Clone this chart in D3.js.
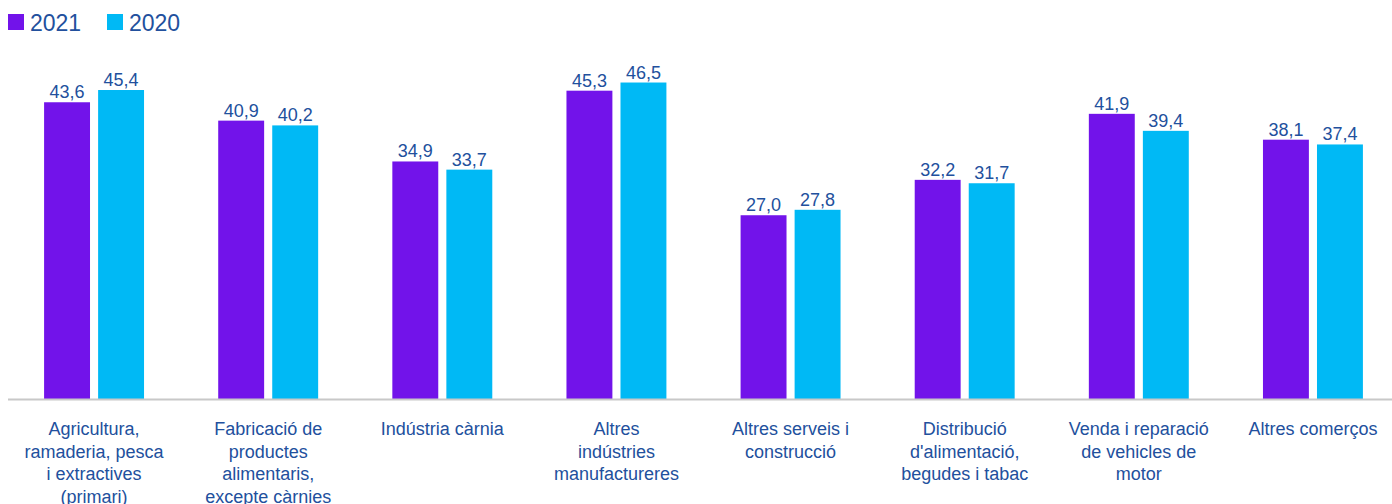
<!doctype html>
<html>
<head>
<meta charset="utf-8">
<style>
  body { margin: 0; background: #fff; }
  text { font-family: "Liberation Sans", Arial, sans-serif; fill: #22509d; }
</style>
</head>
<body>
<script src="https://d3js.org/d3.v7.min.js"></script>
<script>
// data
var categories = [
    ["Agricultura,", "ramaderia, pesca", "i extractives", "(primari)"],
    ["Fabricació de", "productes", "alimentaris,", "excepte càrnies"],
    ["Indústria càrnia"],
    ["Altres", "indústries", "manufactureres"],
    ["Altres serveis i", "construcció"],
    ["Distribució", "d'alimentació,", "begudes i tabac"],
    ["Venda i reparació", "de vehicles de", "motor"],
    ["Altres comerços"]
];
var series = ["2021", "2020"];
var values2021 = [43.6, 40.9, 34.9, 45.3, 27.0, 32.2, 41.9, 38.1];
var values2020 = [45.4, 40.2, 33.7, 46.5, 27.8, 31.7, 39.4, 37.4];
var colors = ["#7213ea", "#00b9f5"];

var width = 1392, height = 504;
var baseY = 399;

var svg = d3.select("body").append("svg")
    .attr("width", width)
    .attr("height", height);

var x0 = d3.scaleBand()
    .domain(d3.range(categories.length))
    .range([7, 1400])
    .paddingInner(0.426)
    .paddingOuter(0.213);

var x1 = d3.scaleBand()
    .domain(series)
    .range([0, x0.bandwidth()])
    .paddingInner(0.15);

var y = d3.scaleLinear()
    .domain([0, 50])
    .range([baseY, baseY - 340.3]);

var rows = categories.map(function (c, i) {
    return { i: i, lines: c, vals: [values2021[i], values2020[i]] };
});

// bars
var groups = svg.selectAll("g.grp")
    .data(rows)
    .enter().append("g")
    .attr("class", "grp")
    .attr("transform", function (d) { return "translate(" + x0(d.i) + ",0)"; });

groups.selectAll("rect")
    .data(function (d) { return d.vals.map(function (v, k) { return { k: k, v: v }; }); })
    .enter().append("rect")
    .attr("x", function (d) { return x1(series[d.k]); })
    .attr("y", function (d) { return y(d.v); })
    .attr("width", x1.bandwidth())
    .attr("height", function (d) { return baseY - y(d.v); })
    .attr("fill", function (d) { return colors[d.k]; });

groups.selectAll("text.val")
    .data(function (d) { return d.vals.map(function (v, k) { return { k: k, v: v }; }); })
    .enter().append("text")
    .attr("class", "val")
    .attr("x", function (d) { return x1(series[d.k]) + x1.bandwidth() / 2; })
    .attr("y", function (d) { return y(d.v) - 4; })
    .attr("text-anchor", "middle")
    .attr("font-size", 18)
    .text(function (d) { return d.v.toFixed(1).replace(".", ","); });

// baseline
svg.append("line")
    .attr("x1", 8).attr("x2", width)
    .attr("y1", baseY + 0.5).attr("y2", baseY + 0.5)
    .attr("stroke", "#c8c8c8")
    .attr("stroke-width", 2);

// category labels
var lab = svg.selectAll("text.cat")
    .data(rows)
    .enter().append("text")
    .attr("class", "cat")
    .attr("text-anchor", "middle")
    .attr("font-size", 18)
    .attr("transform", function (d) { return "translate(" + (x0(d.i) + x0.bandwidth() / 2) + ",435)"; });

lab.selectAll("tspan")
    .data(function (d) { return d.lines; })
    .enter().append("tspan")
    .attr("x", 0)
    .attr("y", function (d, k) { return k * 22.5; })
    .text(function (d) { return d; });

// legend
var leg = svg.selectAll("g.leg")
    .data(series)
    .enter().append("g")
    .attr("class", "leg")
    .attr("transform", function (d, k) { return "translate(" + (8 + k * 99) + ",0)"; });

leg.append("rect")
    .attr("x", 0).attr("y", 14)
    .attr("width", 16).attr("height", 16)
    .attr("fill", function (d, k) { return colors[k]; });

leg.append("text")
    .attr("x", 22).attr("y", 31)
    .attr("font-size", 23)
    .text(function (d) { return d; });
</script>
</body>
</html>
